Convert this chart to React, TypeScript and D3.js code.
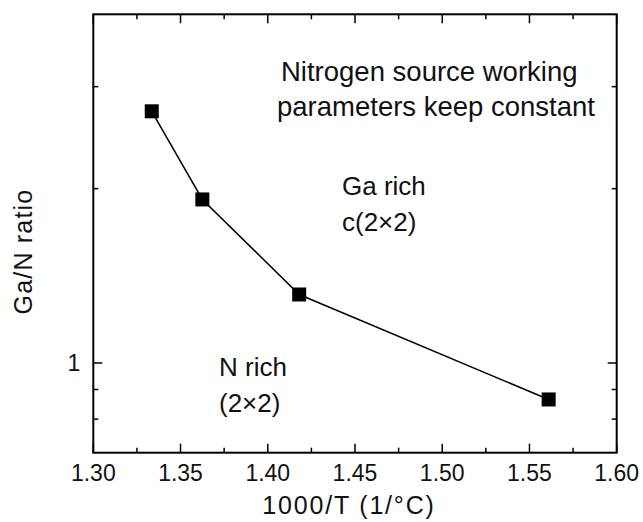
import React from "react";
import * as d3 from "d3";

// Measured Ga/N flux ratio versus inverse substrate temperature
const invTemp = [1.3335, 1.3625, 1.418, 1.561];
const gaNRatio = [2.72, 1.916, 1.313, 0.865];

const xTicks = [1.3, 1.35, 1.4, 1.45, 1.5, 1.55, 1.6];
const xMinorTicks = [1.325, 1.375, 1.425, 1.475, 1.525, 1.575];
const yMajorTicks = [1];
const yMinorTicks = [0.8, 0.9, 2, 3];

const W = 643;
const H = 522;
const margin = { left: 93.3, right: 643 - 616.7, top: 14.3, bottom: 522 - 452.7 };
const font = "Arial, 'Liberation Sans', Helvetica, sans-serif";

export default function App() {
  const x = d3.scaleLinear().domain([1.3, 1.6]).range([margin.left, W - margin.right]);
  const y = d3.scaleLog().domain([0.7, 4]).range([H - margin.bottom, margin.top]);
  const [x0, x1] = x.range();
  const [y0, y1] = y.range();

  const line = d3
    .line<number>()
    .x((_, i) => x(invTemp[i]))
    .y((d) => y(d));

  const major = 9;
  const minor = 5;
  const ms = 14;

  return (
    <svg
      width={W}
      height={H}
      style={{ position: "absolute", left: 0, top: 0, background: "#fff" }}
      fontFamily={font}
    >
      {/* frame */}
      <rect x={x0} y={y1} width={x1 - x0} height={y0 - y1} fill="none" stroke="#000" strokeWidth={2} />

      {/* x ticks, bottom and top */}
      {xTicks.map((t) => (
        <g key={"xt" + t}>
          <line x1={x(t)} x2={x(t)} y1={y0} y2={y0 - major} stroke="#000" strokeWidth={1.5} />
          <line x1={x(t)} x2={x(t)} y1={y1} y2={y1 + major} stroke="#000" strokeWidth={1.5} />
          <text x={x(t)} y={y0 + 28} textAnchor="middle" fontSize={23} fill="#111">
            {t.toFixed(2)}
          </text>
        </g>
      ))}
      {xMinorTicks.map((t) => (
        <g key={"xm" + t}>
          <line x1={x(t)} x2={x(t)} y1={y0} y2={y0 - minor} stroke="#000" strokeWidth={1.5} />
          <line x1={x(t)} x2={x(t)} y1={y1} y2={y1 + minor} stroke="#000" strokeWidth={1.5} />
        </g>
      ))}

      {/* y ticks, left and right */}
      {yMajorTicks.map((t) => (
        <g key={"yt" + t}>
          <line x1={x0} x2={x0 + major} y1={y(t)} y2={y(t)} stroke="#000" strokeWidth={1.5} />
          <line x1={x1} x2={x1 - major} y1={y(t)} y2={y(t)} stroke="#000" strokeWidth={1.5} />
          <text x={x0 - 13} y={y(t)} dy="0.35em" textAnchor="end" fontSize={23} fill="#111">
            {t}
          </text>
        </g>
      ))}
      {yMinorTicks.map((t) => (
        <g key={"ym" + t}>
          <line x1={x0} x2={x0 + minor} y1={y(t)} y2={y(t)} stroke="#000" strokeWidth={1.5} />
          <line x1={x1} x2={x1 - minor} y1={y(t)} y2={y(t)} stroke="#000" strokeWidth={1.5} />
        </g>
      ))}

      {/* data */}
      <path d={line(gaNRatio) ?? ""} fill="none" stroke="#000" strokeWidth={1.5} />
      {gaNRatio.map((v, i) => (
        <rect
          key={"p" + i}
          x={x(invTemp[i]) - ms / 2}
          y={y(v) - ms / 2}
          width={ms}
          height={ms}
          fill="#000"
        />
      ))}

      {/* annotations */}
      <g fontSize={27.5} fill="#111">
        <text x={281} y={81}>Nitrogen source working</text>
        <text x={277} y={116}>parameters keep constant</text>
      </g>
      <g fontSize={26} fill="#111">
        <text x={342} y={195}>Ga rich</text>
        <text x={342} y={231}>c(2×2)</text>
        <text x={219} y={376}>N rich</text>
        <text x={219} y={412}>(2×2)</text>
      </g>

      {/* axis titles */}
      <text
        x={(x0 + x1) / 2 - 6}
        y={514}
        textAnchor="middle"
        fontSize={25}
        letterSpacing={1.8}
        fill="#111"
      >
        1000/T (1/°C)
      </text>
      <text
        transform={`translate(32, ${(y0 + y1) / 2 + 18}) rotate(-90)`}
        textAnchor="middle"
        fontSize={25}
        letterSpacing={1.2}
        fill="#111"
      >
        Ga/N ratio
      </text>
    </svg>
  );
}
